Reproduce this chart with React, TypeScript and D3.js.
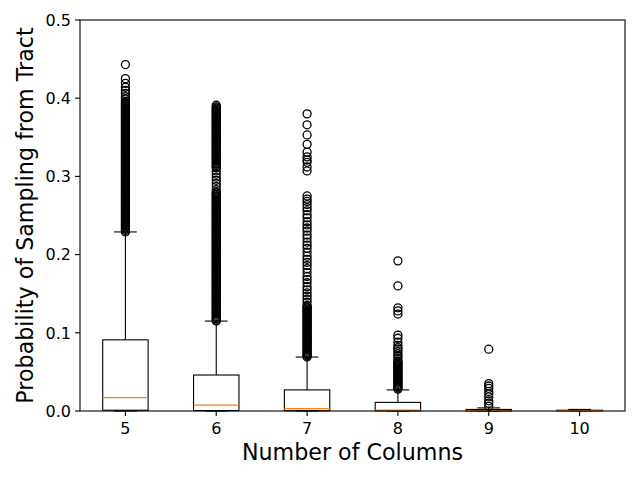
import React from "react";
import * as d3 from "d3";

const categories = ["5", "6", "7", "8", "9", "10"];
const whiskerLow = [0, 0, 0, 0, 0, 0];
const q1 = [0.001, 0.0005, 0.0003, 0.0002, 0.0001, 0.0001];
const medians = [0.017, 0.0075, 0.003, 0.001, 0.0005, 0.0003];
const q3 = [0.091, 0.046, 0.027, 0.011, 0.002, 0.001];
const whiskerHigh = [0.229, 0.115, 0.069, 0.027, 0.004, 0.002];

const outliers5 = [
  0.229, 0.231, 0.234, 0.237, 0.24, 0.243, 0.246, 0.249, 0.252, 0.255, 0.258, 0.261, 0.264, 0.267,
  0.27, 0.273, 0.276, 0.279, 0.282, 0.285, 0.288, 0.291, 0.294, 0.297, 0.3, 0.303, 0.306, 0.309,
  0.312, 0.315, 0.318, 0.321, 0.324, 0.327, 0.33, 0.333, 0.336, 0.339, 0.342, 0.345, 0.348, 0.351,
  0.354, 0.357, 0.36, 0.363, 0.366, 0.369, 0.372, 0.375, 0.378, 0.381, 0.384, 0.387, 0.39, 0.393,
  0.396, 0.399, 0.402, 0.406, 0.41, 0.414, 0.419, 0.425, 0.443,
  0.2325, 0.2355, 0.2385, 0.2415, 0.2445, 0.2475, 0.2505, 0.2535, 0.2565, 0.2595, 0.2625, 0.2655,
  0.2685, 0.2715, 0.2745, 0.2775, 0.2805, 0.2835, 0.2865, 0.2895, 0.2925, 0.2955, 0.2985, 0.3015,
  0.3045, 0.3075, 0.3105, 0.3135, 0.3165, 0.3195, 0.3225, 0.3255, 0.3285, 0.3315, 0.3345, 0.3375,
  0.3405, 0.3435, 0.3465, 0.3495, 0.3525, 0.3555, 0.3585, 0.3615, 0.3645, 0.3675, 0.3705, 0.3735,
  0.3765, 0.3795, 0.3825, 0.3855, 0.3885, 0.3915, 0.3945,
];
const outliers6 = [
  0.115, 0.118, 0.121, 0.124, 0.127, 0.13, 0.133, 0.136, 0.139, 0.142, 0.145, 0.148, 0.151, 0.154,
  0.157, 0.16, 0.163, 0.166, 0.169, 0.172, 0.175, 0.178, 0.181, 0.184, 0.187, 0.19, 0.193, 0.196,
  0.199, 0.202, 0.205, 0.208, 0.211, 0.214, 0.217, 0.22, 0.223, 0.226, 0.229, 0.232, 0.235, 0.238,
  0.241, 0.244, 0.247, 0.25, 0.253, 0.256, 0.259, 0.262, 0.265, 0.268, 0.271, 0.274, 0.277, 0.28,
  0.283, 0.287, 0.291, 0.295, 0.299, 0.303, 0.307, 0.311, 0.314, 0.317, 0.32, 0.323, 0.326, 0.329,
  0.332, 0.335, 0.338, 0.341, 0.344, 0.347, 0.35, 0.353, 0.356, 0.359, 0.362, 0.365, 0.368, 0.371,
  0.374, 0.377, 0.38, 0.383, 0.386, 0.389, 0.391,
  0.1165, 0.1195, 0.1225, 0.1255, 0.1285, 0.1315, 0.1345, 0.1375, 0.1405, 0.1435, 0.1465, 0.1495,
  0.1525, 0.1555, 0.1585, 0.1615, 0.1645, 0.1675, 0.1705, 0.1735, 0.1765, 0.1795, 0.1825, 0.1855,
  0.1885, 0.1915, 0.1945, 0.1975, 0.2005, 0.2035, 0.2065, 0.2095, 0.2125, 0.2155, 0.2185, 0.2215,
  0.2245, 0.2275, 0.2305, 0.2335, 0.2365, 0.2395, 0.2425, 0.2455, 0.2485, 0.2515, 0.2545, 0.2575,
  0.2605, 0.2635, 0.2665, 0.2695, 0.2725, 0.2755, 0.2785, 0.3125, 0.3155, 0.3185, 0.3215, 0.3245,
  0.3275, 0.3305, 0.3335, 0.3365, 0.3395, 0.3425, 0.3455, 0.3485, 0.3515, 0.3545, 0.3575, 0.3605,
  0.3635, 0.3665, 0.3695, 0.3725, 0.3755, 0.3785, 0.3815, 0.3845, 0.3875,
];
const outliers7 = [
  0.069, 0.072, 0.075, 0.078, 0.081, 0.084, 0.087, 0.09, 0.093, 0.096, 0.099, 0.102, 0.105, 0.108,
  0.111, 0.114, 0.117, 0.12, 0.123, 0.126, 0.129, 0.132, 0.135, 0.139, 0.143, 0.147, 0.151, 0.155,
  0.159, 0.164, 0.168, 0.172, 0.177, 0.182, 0.186, 0.19, 0.194, 0.198, 0.203, 0.208, 0.212, 0.216,
  0.221, 0.225, 0.23, 0.234, 0.238, 0.242, 0.247, 0.251, 0.256, 0.26, 0.264, 0.268, 0.271, 0.275,
  0.307, 0.312, 0.318, 0.321, 0.325, 0.331, 0.341, 0.353, 0.366, 0.38,
  0.0705, 0.0735, 0.0765, 0.0795, 0.0825, 0.0855, 0.0885, 0.0915, 0.0945, 0.0975, 0.1005, 0.1035,
  0.1065, 0.1095, 0.1125, 0.1155, 0.1185, 0.1215, 0.1245, 0.1275, 0.1305, 0.1335,
];
const outliers8 = [
  0.028, 0.031, 0.034, 0.037, 0.04, 0.043, 0.046, 0.049, 0.052, 0.055, 0.058, 0.061, 0.064, 0.067,
  0.07, 0.073, 0.076, 0.079, 0.081, 0.084, 0.088, 0.093, 0.097, 0.124, 0.128, 0.132, 0.16, 0.192,
  0.0295, 0.0325, 0.0355, 0.0385, 0.0415, 0.0445, 0.0475, 0.0505, 0.0535, 0.0565, 0.0595, 0.0625,
];
const outliers9 = [0.006, 0.01, 0.013, 0.018, 0.022, 0.025, 0.029, 0.032, 0.035, 0.079];
const outliers10: number[] = [];
const outlierSets = [outliers5, outliers6, outliers7, outliers8, outliers9, outliers10];

const yTicks = [0, 0.1, 0.2, 0.3, 0.4, 0.5];

const W = 640, H = 480;
const left = 80, right = 625, top = 20, bottom = 411;
const font = "DejaVu Sans, sans-serif";

export default function App() {
  const x = d3.scaleLinear().domain([0.5, categories.length + 0.5]).range([left, right]);
  const y = d3.scaleLinear().domain([0, 0.5]).range([bottom, top]);
  const unit = x(2) - x(1);
  const boxW = unit * 0.5;
  const capW = unit * 0.25;

  return (
    <svg width={W} height={H} style={{ position: "absolute", left: 0, top: 0, background: "#fff" }}>
      <rect x={0} y={0} width={W} height={H} fill="#fff" />
      {categories.map((c, i) => {
        const cx = x(i + 1);
        return (
          <g key={c}>
            <line x1={cx} x2={cx} y1={y(q3[i])} y2={y(whiskerHigh[i])} stroke="#000" strokeWidth={1.1} />
            <line x1={cx} x2={cx} y1={y(q1[i])} y2={y(whiskerLow[i])} stroke="#000" strokeWidth={1.1} />
            <line x1={cx - capW / 2} x2={cx + capW / 2} y1={y(whiskerHigh[i])} y2={y(whiskerHigh[i])} stroke="#000" strokeWidth={1.1} />
            <line x1={cx - capW / 2} x2={cx + capW / 2} y1={y(whiskerLow[i])} y2={y(whiskerLow[i])} stroke="#000" strokeWidth={1.1} />
            <rect x={cx - boxW / 2} y={y(q3[i])} width={boxW} height={Math.max(0.5, y(q1[i]) - y(q3[i]))} fill="none" stroke="#000" strokeWidth={1.1} />
            <line x1={cx - boxW / 2} x2={cx + boxW / 2} y1={y(medians[i])} y2={y(medians[i])} stroke="#ff7f0e" strokeWidth={1.3} />
            {outlierSets[i].map((v, j) => (
              <circle key={j} cx={cx} cy={y(v)} r={4} fill="none" stroke="#000" strokeWidth={1.3} />
            ))}
          </g>
        );
      })}
      <rect x={left} y={top} width={right - left} height={bottom - top} fill="none" stroke="#000" strokeWidth={1.1} />
      {yTicks.map((t) => (
        <g key={t}>
          <line x1={left - 5} x2={left} y1={y(t)} y2={y(t)} stroke="#000" strokeWidth={1.1} />
          <text x={left - 9} y={y(t)} dy="0.36em" textAnchor="end" fontFamily={font} fontSize={16}>
            {t.toFixed(1)}
          </text>
        </g>
      ))}
      {categories.map((c, i) => (
        <g key={c}>
          <line x1={x(i + 1)} x2={x(i + 1)} y1={bottom} y2={bottom + 5} stroke="#000" strokeWidth={1.1} />
          <text x={x(i + 1)} y={bottom + 23} textAnchor="middle" fontFamily={font} fontSize={16}>
            {c}
          </text>
        </g>
      ))}
      <text x={(left + right) / 2} y={460} textAnchor="middle" fontFamily={font} fontSize={22.2}>
        Number of Columns
      </text>
      <text transform={`translate(33, ${(top + bottom) / 2}) rotate(-90)`} textAnchor="middle" fontFamily={font} fontSize={22.2}>
        Probability of Sampling from Tract
      </text>
    </svg>
  );
}
